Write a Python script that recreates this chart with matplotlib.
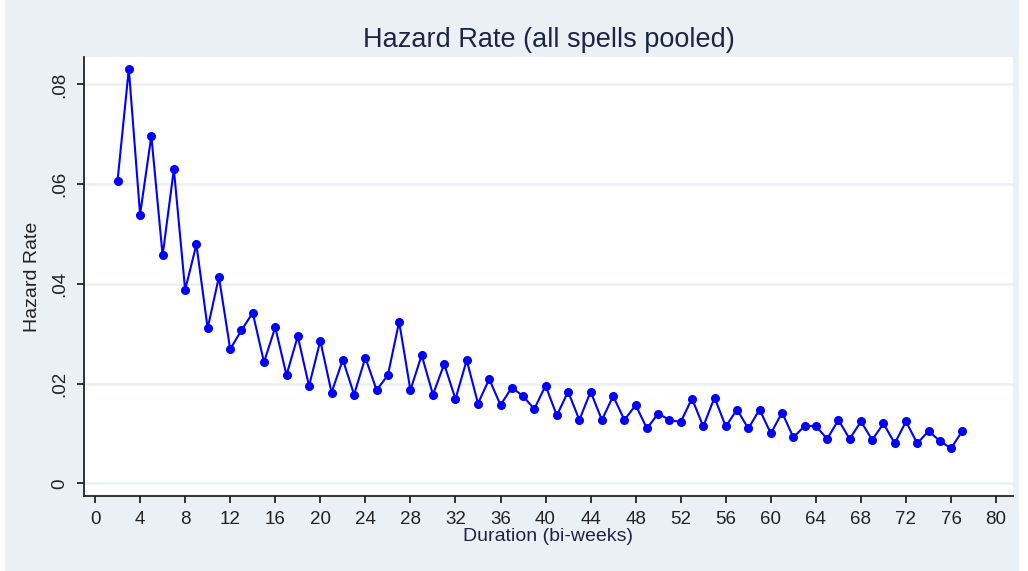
import matplotlib
matplotlib.use('Agg')
import matplotlib.pyplot as plt
from matplotlib.patches import Rectangle

# durations (bi-weeks) and pooled hazard rate
duration = list(range(2, 78))
hazard = [
    0.0607, 0.0831, 0.0539, 0.0697, 0.0457, 0.0630, 0.0388, 0.0479, 0.0311, 0.0414,
    0.0269, 0.0307, 0.0342, 0.0243, 0.0313, 0.0217, 0.0295, 0.0195, 0.0286, 0.0182,
    0.0248, 0.0178, 0.0252, 0.0187, 0.0217, 0.0324, 0.0187, 0.0257, 0.0178, 0.0239,
    0.0169, 0.0247, 0.0160, 0.0209, 0.0157, 0.0192, 0.0175, 0.0149, 0.0196, 0.0136,
    0.0184, 0.0127, 0.0184, 0.0127, 0.0175, 0.0127, 0.0157, 0.0110, 0.0140, 0.0127,
    0.0123, 0.0170, 0.0114, 0.0172, 0.0114, 0.0148, 0.0110, 0.0148, 0.0100, 0.0142,
    0.0092, 0.0115, 0.0115, 0.0089, 0.0127, 0.0089, 0.0124, 0.0087, 0.0120, 0.0080,
    0.0124, 0.0080, 0.0105, 0.0085, 0.0070, 0.0105,
]
x_ticks = list(range(0, 81, 4))
y_ticks = [0, 0.02, 0.04, 0.06, 0.08]
y_tick_labels = ['0', '.02', '.04', '.06', '.08']

plt.rcParams['font.family'] = ['Liberation Sans', 'DejaVu Sans']

bg = '#EBF0F5'
text_col = '#1C2448'

fig = plt.figure(figsize=(10.28, 5.71), dpi=100, facecolor='white')
# grey graph region with thin white margins left/right like the original export
fig.patches.append(Rectangle((0.005, 0.0), 0.986, 1.0, transform=fig.transFigure,
                             facecolor=bg, edgecolor='none', zorder=-10))

ax = fig.add_axes([0.0817, 0.1313, 0.9037, 0.7689])
ax.set_facecolor('white')

ax.plot(duration, hazard, color='#0000FF', lw=1.5, marker='o', markersize=5.5, zorder=3)

ax.set_xlim(-0.98, 81.5)
ax.set_ylim(-0.00255, 0.0855)
ax.set_xticks(x_ticks)
ax.set_yticks(y_ticks)
ax.set_yticklabels(y_tick_labels, rotation=90, va='center')

ax.grid(axis='y', color='#EAF0F5', lw=1.8, zorder=0)
ax.set_axisbelow(True)

for side in ['top', 'right']:
    ax.spines[side].set_visible(False)
for side in ['left', 'bottom']:
    ax.spines[side].set_color('#222222')
    ax.spines[side].set_linewidth(1.3)

ax.tick_params(axis='both', direction='out', length=5, width=1.3, color='#222222',
               labelsize=13.5, labelcolor='#222222', pad=6)

ax.set_xlabel('Duration (bi-weeks)', fontsize=14, color=text_col)
ax.xaxis.set_label_coords(0.5, -0.073)
ax.set_ylabel('Hazard Rate', fontsize=14, color='#222222')
ax.yaxis.set_label_coords(-0.046, 0.5)

fig.text(0.534, 0.9177, 'Hazard Rate (all spells pooled)', fontsize=19.5,
         color=text_col, ha='center', va='baseline')

fig.savefig('out.png', dpi=100)
